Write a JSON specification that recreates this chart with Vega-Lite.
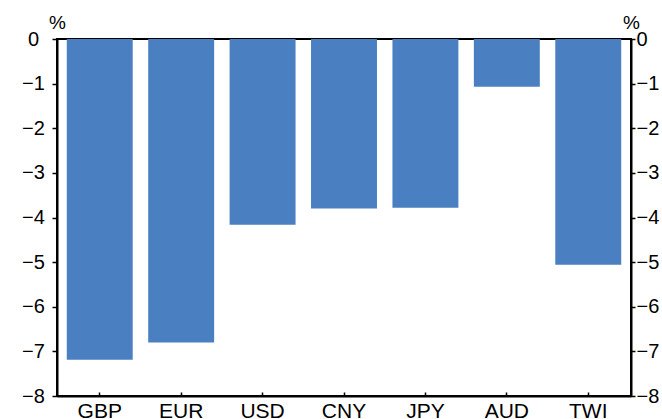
{
  "$schema": "https://vega.github.io/schema/vega-lite/v6.json",
  "width": 574,
  "height": 357,
  "autosize": "none",
  "padding": {"left": 57, "top": 39, "right": 31, "bottom": 23},
  "background": "white",
  "config": {
    "view": {"stroke": "black", "strokeWidth": 2},
    "font": "Liberation Sans",
    "axis": {"labelFont": "Liberation Sans", "titleFont": "Liberation Sans", "labelColor": "black", "titleColor": "black", "tickColor": "black", "domainColor": "black", "grid": false}
  },
  "data": {
    "values": [
      {"ccy": "GBP", "chg": -7.19},
      {"ccy": "EUR", "chg": -6.8},
      {"ccy": "USD", "chg": -4.16},
      {"ccy": "CNY", "chg": -3.8},
      {"ccy": "JPY", "chg": -3.78},
      {"ccy": "AUD", "chg": -1.07},
      {"ccy": "TWI", "chg": -5.06}
    ]
  },
  "layer": [
    {
      "mark": {"type": "bar", "color": "#4a80c2"},
      "encoding": {
        "x": {
          "field": "ccy", "type": "nominal", "sort": null,
          "scale": {"paddingInner": 0.19, "paddingOuter": 0.12},
          "axis": {"title": null, "labelAngle": 0, "labelFontSize": 21, "labelPadding": 8, "tickSize": -4, "tickWidth": 1.5, "domainWidth": 2, "labelBaseline": "top"}
        },
        "y": {
          "field": "chg", "type": "quantitative",
          "scale": {"domain": [-8, 0], "nice": false, "zero": false},
          "axis": {"orient": "left", "values": [-8, -7, -6, -5, -4, -3, -2, -1, 0], "format": "d", "labelFontSize": 20, "labelAlign": "center", "labelBaseline": "middle", "tickSize": 5, "tickWidth": 1.5, "labelPadding": 19, "domainWidth": 2, "title": "%", "titleAngle": 0, "titleFontSize": 19, "titleFontWeight": "normal", "titleX": 0, "titleY": -11, "titleAlign": "center", "titleBaseline": "alphabetic"}
        }
      }
    },
    {
      "mark": {"type": "bar", "opacity": 0},
      "encoding": {
        "x": {"field": "ccy", "type": "nominal", "sort": null},
        "y": {
          "field": "chg", "type": "quantitative",
          "scale": {"domain": [-8, 0], "nice": false, "zero": false},
          "axis": {"orient": "right", "values": [-8, -7, -6, -5, -4, -3, -2, -1, 0], "format": "d", "labelFontSize": 20, "labelAlign": "left", "labelBaseline": "middle", "tickSize": 4, "tickWidth": 1.5, "labelPadding": 1, "domainWidth": 2, "title": "%", "titleAngle": 0, "titleFontSize": 19, "titleFontWeight": "normal", "titleX": 0, "titleY": -11, "titleAlign": "center", "titleBaseline": "alphabetic"}
        }
      }
    }
  ],
  "resolve": {"scale": {"y": "independent"}}
}
